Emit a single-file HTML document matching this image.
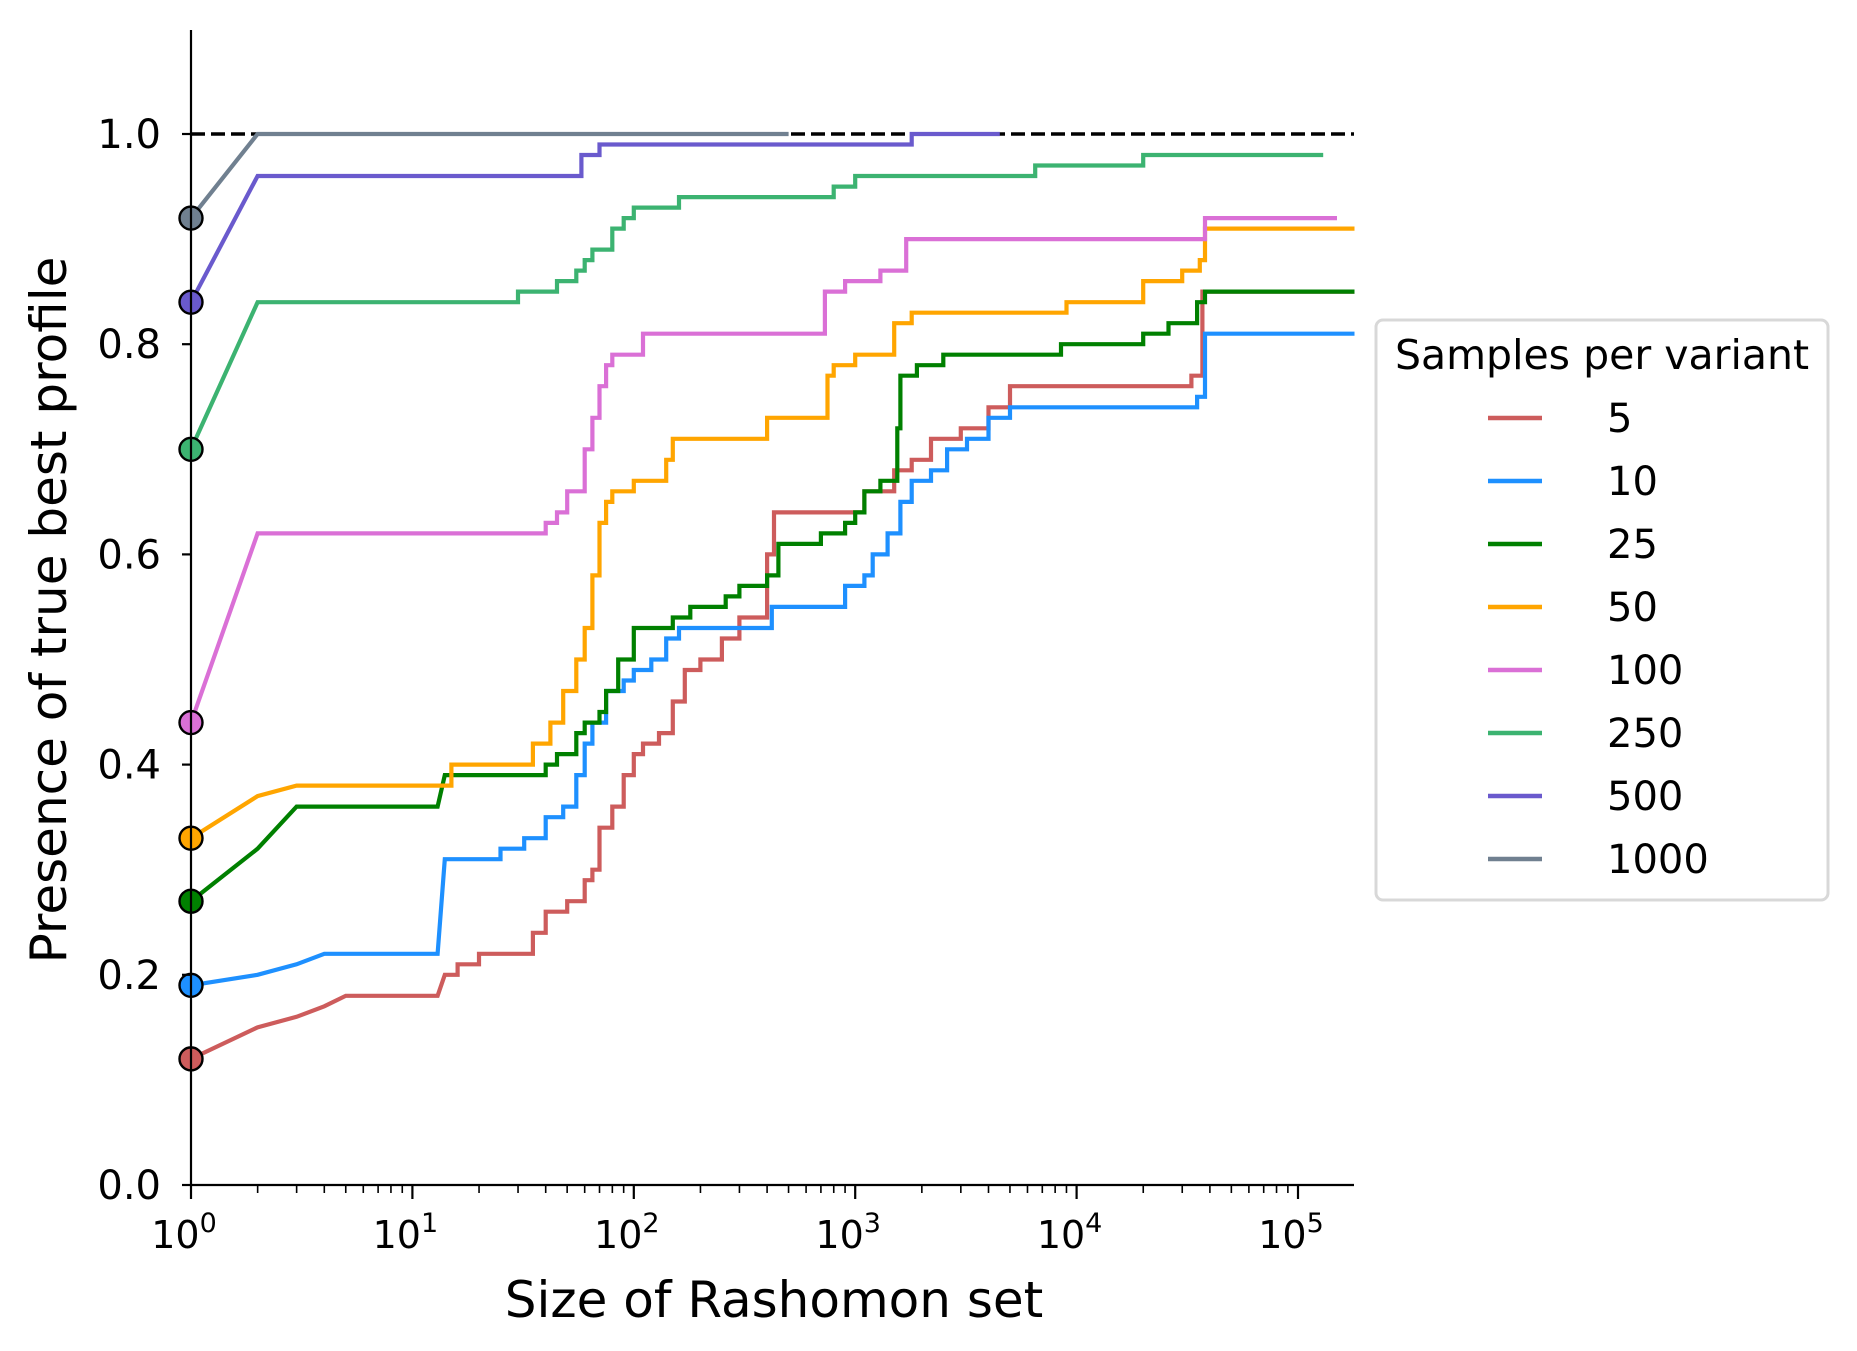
<!DOCTYPE html>
<html><head><meta charset="utf-8"><style>
html,body{margin:0;padding:0;background:#fff}
svg{display:block;font-family:"DejaVu Sans","Liberation Sans",sans-serif}
</style></head><body>
<svg id="chart" width="1857" height="1351" viewBox="0 0 1857 1351" xmlns="http://www.w3.org/2000/svg">
<g id="plot"></g>
<g id="axes"></g>
<g id="legend"></g>
</svg>
<script>
const seriesNames = ["5","10","25","50","100","250","500","1000"];
const seriesColors = ["#cd5c5c","#1e90ff","#008000","#ffa500","#da70d6","#3cb371","#6a5acd","#708090"];
const s5x = [1,2,3,4,5,13,14,16,20,30,35,40,50,60,65,70,80,90,100,110,130,150,170,200,250,300,380,400,430,900,1100,1500,1800,2200,3000,4000,5000,30000,33000,36000,37000,180000];
const s5y = [0.12,0.15,0.16,0.17,0.18,0.18,0.20,0.21,0.22,0.22,0.24,0.26,0.27,0.29,0.30,0.34,0.36,0.39,0.41,0.42,0.43,0.46,0.49,0.50,0.52,0.54,0.54,0.60,0.64,0.64,0.66,0.68,0.69,0.71,0.72,0.74,0.76,0.76,0.77,0.77,0.85,0.85];
const s10x = [1,2,3,4,13,14,22,25,32,40,48,55,60,65,75,90,100,120,140,160,400,420,800,900,1100,1200,1400,1600,1800,2200,2600,3200,4000,5000,33000,35000,38000,180000];
const s10y = [0.19,0.20,0.21,0.22,0.22,0.31,0.31,0.32,0.33,0.35,0.36,0.39,0.42,0.44,0.47,0.48,0.49,0.50,0.52,0.53,0.53,0.55,0.55,0.57,0.58,0.60,0.62,0.65,0.67,0.68,0.70,0.71,0.73,0.74,0.74,0.75,0.81,0.81];
const s25x = [1,2,3,13,14,35,40,45,55,60,70,75,85,100,150,180,260,300,400,450,700,900,1000,1100,1300,1550,1600,1900,2500,8500,20000,26000,35000,38000,180000];
const s25y = [0.27,0.32,0.36,0.36,0.39,0.39,0.40,0.41,0.43,0.44,0.45,0.47,0.50,0.53,0.54,0.55,0.56,0.57,0.58,0.61,0.62,0.63,0.64,0.66,0.67,0.72,0.77,0.78,0.79,0.80,0.81,0.82,0.84,0.85,0.85];
const s50x = [1,2,3,13,15,30,35,42,48,55,60,65,70,75,80,100,140,150,250,400,700,750,800,1000,1500,1800,6000,9000,20000,30000,36000,38000,180000];
const s50y = [0.33,0.37,0.38,0.38,0.40,0.40,0.42,0.44,0.47,0.50,0.53,0.58,0.63,0.65,0.66,0.67,0.69,0.71,0.71,0.73,0.73,0.77,0.78,0.79,0.82,0.83,0.83,0.84,0.86,0.87,0.88,0.91,0.91];
const s100x = [1,2,35,40,45,50,60,65,70,75,80,110,700,730,900,1100,1300,1700,35000,38000,150000];
const s100y = [0.44,0.62,0.62,0.63,0.64,0.66,0.70,0.73,0.76,0.78,0.79,0.81,0.81,0.85,0.86,0.86,0.87,0.90,0.90,0.92,0.92];
const s250x = [1,2,28,30,45,55,60,65,80,90,100,160,700,800,1000,6500,20000,130000];
const s250y = [0.70,0.84,0.84,0.85,0.86,0.87,0.88,0.89,0.91,0.92,0.93,0.94,0.94,0.95,0.96,0.97,0.98,0.98];
const s500x = [1,2,55,58,70,1700,1800,4500];
const s500y = [0.84,0.96,0.96,0.98,0.99,0.99,1.0,1.0];
const s1000x = [1,2,500];
const s1000y = [0.92,1.0,1.0];
const yTicks = [0,0.2,0.4,0.6,0.8,1.0];
const xDecades = [0,1,2,3,4,5];

const allX = [s5x,s10x,s25x,s50x,s100x,s250x,s500x,s1000x];
const allY = [s5y,s10y,s25y,s50y,s100y,s250y,s500y,s1000y];
const X0=191, DEC=221.4, XR=1354, Y0=1185, YS=1051, YTOP=30;
const xs = v => X0 + DEC*Math.log10(v);
const ys = v => Y0 - YS*v;
const NS="http://www.w3.org/2000/svg";
function mk(tag, attrs, parent){const e=document.createElementNS(NS,tag);for(const k in attrs)e.setAttribute(k,attrs[k]);parent.appendChild(e);return e;}
const plot=document.getElementById('plot'), axes=document.getElementById('axes'), legend=document.getElementById('legend');

const ref = mk('line',{x1:xs(1),x2:XR,y1:ys(1),y2:ys(1),stroke:'#000','stroke-width':3.6,'stroke-dasharray':'14,6'},plot);



allX.forEach((xa,i)=>{
  const ya=allY[i];
  let d='M'+xs(xa[0]).toFixed(1)+','+ys(ya[0]).toFixed(1);
  for(let j=1;j<xa.length;j++){
    if(xa[j]-xa[j-1]<=1){d+=' L'+xs(xa[j]).toFixed(1)+','+ys(ya[j]).toFixed(1);}
    else{d+=' L'+xs(xa[j]).toFixed(1)+','+ys(ya[j-1]).toFixed(1)+' L'+xs(xa[j]).toFixed(1)+','+ys(ya[j]).toFixed(1);}
  }
  const p=mk('path',{d:d,fill:'none',stroke:seriesColors[i],'stroke-width':4.2,'stroke-linejoin':'miter'},plot);
  
  
});
allX.forEach((xa,i)=>{
  const c=mk('circle',{cx:xs(xa[0]),cy:ys(allY[i][0]),r:11.5,fill:seriesColors[i],stroke:'#000','stroke-width':2.4},plot);
  
  
});

const ly=mk('line',{x1:X0,x2:X0,y1:YTOP,y2:Y0,stroke:'#000','stroke-width':2.2},axes);


const lx=mk('line',{x1:X0,x2:XR,y1:Y0,y2:Y0,stroke:'#000','stroke-width':2.2},axes);



yTicks.forEach(v=>{
  mk('line',{x1:X0-9,x2:X0,y1:ys(v),y2:ys(v),stroke:'#000','stroke-width':2.2},axes);
  const t=mk('text',{x:X0-30,y:ys(v)+14,'text-anchor':'end','font-size':40,fill:'#000'},axes);
  t.textContent=v.toFixed(1);
  
  
});
xDecades.forEach(k=>{
  const x=X0+DEC*k;
  mk('line',{x1:x,x2:x,y1:Y0,y2:Y0+14,stroke:'#000','stroke-width':2.2},axes);
  for(let m=2;m<=9;m++){const xm=X0+DEC*(k+Math.log10(m));if(xm<=XR)mk('line',{x1:xm,x2:xm,y1:Y0,y2:Y0+8,stroke:'#000','stroke-width':1.6},axes);}
  const t=mk('text',{x:x-7,y:Y0+63,'text-anchor':'middle','font-size':38,fill:'#000'},axes);
  t.innerHTML='10<tspan dy="-16" font-size="27">'+k+'</tspan>';
  
  
});
const xl=mk('text',{x:774,y:1317,'text-anchor':'middle','font-size':50,fill:'#000'},axes);
xl.textContent='Size of Rashomon set';


const yl=mk('text',{x:0,y:0,'text-anchor':'middle','font-size':50,fill:'#000',transform:'translate(66,610) rotate(-90)'},axes);
yl.textContent='Presence of true best profile';



const box=mk('rect',{x:1376,y:320,width:452,height:580,rx:7,fill:'#fff',stroke:'#d8d8d8','stroke-width':3},legend);


const lt=mk('text',{x:1602,y:369,'text-anchor':'middle','font-size':41,fill:'#000'},legend);
lt.textContent='Samples per variant';


seriesNames.forEach((n,i)=>{
  const y=418+63*i;
  const g=mk('g',{},legend);
  
  
  mk('line',{x1:1488,x2:1542,y1:y,y2:y,stroke:seriesColors[i],'stroke-width':4.5},g);
  const t=mk('text',{x:1607,y:y+14,'font-size':40,fill:'#000'},g);
  t.textContent=n;
});
</script>
</body></html>
